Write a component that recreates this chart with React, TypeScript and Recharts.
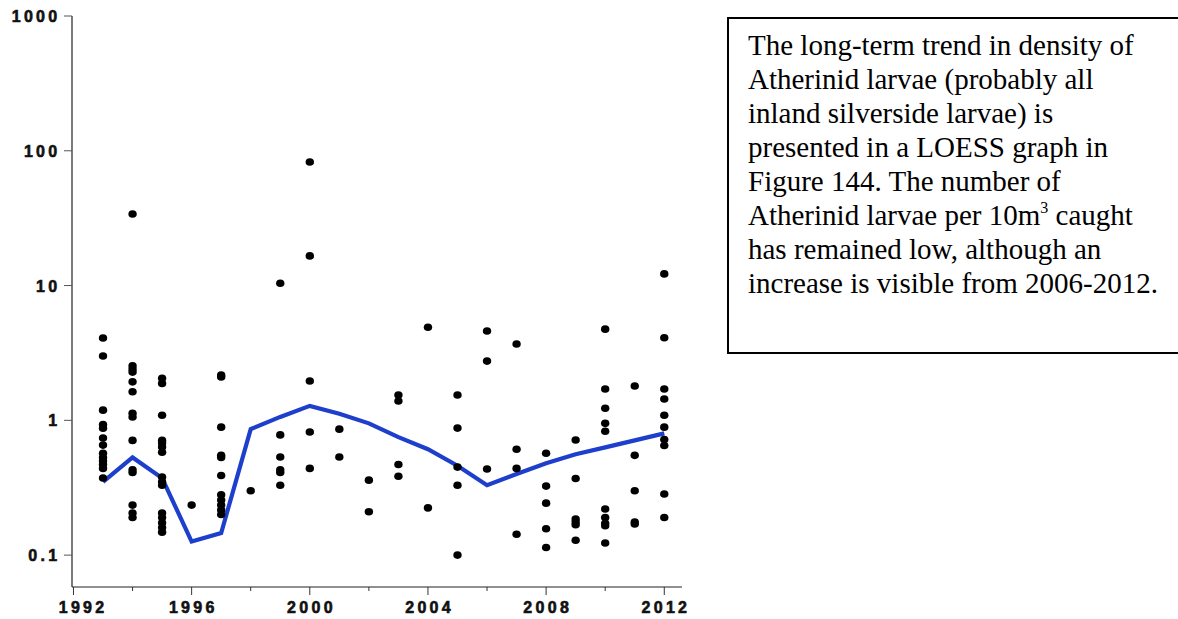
import React from "react";
import { ComposedChart, Scatter, Line, XAxis, YAxis } from "recharts";

// Observed sample years and the densities (larvae per 10 m3) read for each year
const sampleYears = [1993, 1994, 1995, 1996, 1997, 1998, 1999, 2000, 2001, 2002, 2003, 2004, 2005, 2006, 2007, 2008, 2009, 2010, 2011, 2012];
const densityByYear = [
  [4.08, 3.0, 1.19, 0.93, 0.875, 0.74, 0.655, 0.57, 0.53, 0.5, 0.47, 0.44, 0.373],
  [34, 2.54, 2.4, 2.28, 1.93, 1.63, 1.13, 1.06, 0.71, 0.43, 0.41, 0.235, 0.205, 0.19],
  [2.05, 1.88, 1.09, 0.71, 0.68, 0.635, 0.58, 0.38, 0.35, 0.33, 0.205, 0.19, 0.174, 0.16, 0.148],
  [0.235],
  [2.17, 2.1, 0.89, 0.55, 0.53, 0.39, 0.28, 0.256, 0.235, 0.216, 0.2],
  [0.3],
  [10.4, 0.78, 0.535, 0.43, 0.41, 0.33],
  [82.5, 16.6, 1.96, 0.82, 0.44],
  [0.86, 0.535],
  [0.36, 0.21],
  [1.54, 1.39, 0.47, 0.385],
  [4.9, 0.224],
  [1.54, 0.876, 0.45, 0.33, 0.1],
  [4.6, 2.75, 0.435],
  [3.68, 0.61, 0.44, 0.143],
  [0.57, 0.325, 0.243, 0.157, 0.114],
  [0.715, 0.37, 0.185, 0.176, 0.168, 0.129],
  [4.75, 1.71, 1.23, 0.95, 0.83, 0.22, 0.19, 0.172, 0.165, 0.123],
  [1.8, 0.55, 0.3, 0.176, 0.17],
  [12.2, 4.1, 1.71, 1.44, 1.09, 0.89, 0.72, 0.65, 0.284, 0.19],
];

// LOESS trend
const loessYears = [1993, 1994, 1995, 1996, 1997, 1998, 1999, 2000, 2001, 2002, 2003, 2004, 2005, 2006, 2007, 2008, 2009, 2010, 2011, 2012];
const loessValues = [0.35, 0.53, 0.373, 0.126, 0.146, 0.86, 1.06, 1.28, 1.12, 0.95, 0.75, 0.61, 0.46, 0.33, 0.4, 0.48, 0.56, 0.63, 0.71, 0.8];

// Axis ticks
const xTicks = [1992, 1994, 1996, 1998, 2000, 2002, 2004, 2006, 2008, 2010, 2012];
const xLabelled = [1992, 1996, 2000, 2004, 2008, 2012];
const yTicks = [0.1, 1, 10, 100, 1000];
const yTickLabels = ["0.1", "1", "10", "100", "1000"];

const textLines = [
  "The long-term trend in density of",
  "Atherinid larvae (probably all",
  "inland silverside larvae) is",
  "presented in a LOESS graph in",
  "Figure 144. The number of",
  "Atherinid larvae per 10m",
  "has remained low, although an",
  "increase is visible from 2006-2012.",
];

const scatterData = sampleYears.flatMap((yr, i) => densityByYear[i].map((v) => ({ x: yr, y: v })));
const loessData = loessYears.map((yr, i) => ({ x: yr, y: loessValues[i] }));

const tickFont = {
  fontFamily: "'Liberation Sans', Arial, sans-serif",
  fontWeight: 700,
  fontSize: 16,
  letterSpacing: "3.3px",
  fill: "#111",
  stroke: "#111",
  strokeWidth: 0.6,
};

const XTick = (props: any) => {
  const { x, y, payload } = props;
  const v = payload.value;
  const major = xLabelled.includes(v);
  const shift = v === 1992 ? 8 : 0;
  return (
    <g>
      <line x1={x} x2={x} y1={y} y2={y + (major ? 8 : 4)} stroke="#333" strokeWidth={1} />
      {major && (
        <text x={x + 1.65 + shift} y={y + 26} textAnchor="middle" style={tickFont as any}>
          {String(v)}
        </text>
      )}
    </g>
  );
};

const YTick = (props: any) => {
  const { x, y, payload } = props;
  const idx = yTicks.indexOf(payload.value);
  return (
    <g>
      <line x1={x - 8} x2={x} y1={y} y2={y} stroke="#555" strokeWidth={1} />
      <text x={x - 11.5} y={y + 6} textAnchor="end" style={tickFont as any}>
        {idx >= 0 ? yTickLabels[idx] : ""}
      </text>
    </g>
  );
};

const Dot = (props: any) => {
  const { cx, cy } = props;
  if (cx == null || cy == null) return null;
  return <ellipse cx={cx} cy={cy} rx={4.2} ry={3.8} fill="#000" />;
};

export default function App() {
  return (
    <div style={{ position: "absolute", left: 0, top: 0, width: 1178, height: 619, overflow: "hidden", background: "#fff" }}>
      <ComposedChart
        width={1178}
        height={619}
        margin={{ top: 16, right: 496, bottom: 0, left: 0 }}
      >
        <XAxis
          dataKey="x"
          type="number"
          domain={[1991.95, 2012.6]}
          allowDataOverflow
          ticks={xTicks}
          interval={0}
          height={32}
          tickSize={0}
          tickMargin={0}
          tickLine={false}
          axisLine={{ stroke: "#222", strokeWidth: 1.2 }}
          tick={<XTick />}
        />
        <YAxis
          dataKey="y"
          type="number"
          scale="log"
          domain={[0.058, 1000]}
          allowDataOverflow
          ticks={yTicks}
          interval={0}
          width={72}
          tickSize={0}
          tickMargin={0}
          tickLine={false}
          axisLine={{ stroke: "#222", strokeWidth: 1.2 }}
          tick={<YTick />}
        />
        <Scatter data={scatterData} dataKey="y" shape={<Dot />} isAnimationActive={false} />
        <Line
          data={loessData}
          dataKey="y"
          type="linear"
          stroke="#1d3fcc"
          strokeWidth={4.2}
          dot={false}
          activeDot={false}
          isAnimationActive={false}
        />
      </ComposedChart>
      <div
        style={{
          position: "absolute",
          left: 727,
          top: 17,
          width: 480,
          height: 337,
          boxSizing: "border-box",
          border: "2px solid #000",
          padding: "9px 0 0 19px",
          fontFamily: "'Liberation Serif', 'Times New Roman', serif",
          fontSize: 29,
          lineHeight: "34px",
          color: "#000",
          whiteSpace: "nowrap",
        }}
      >
        {textLines.map((ln, i) => (
          <div key={i}>
            {ln}
            {i === 5 && (
              <>
                <sup style={{ fontSize: 16, lineHeight: 0, verticalAlign: "0.75em" }}>3</sup>
                {" caught"}
              </>
            )}
          </div>
        ))}
      </div>
    </div>
  );
}
